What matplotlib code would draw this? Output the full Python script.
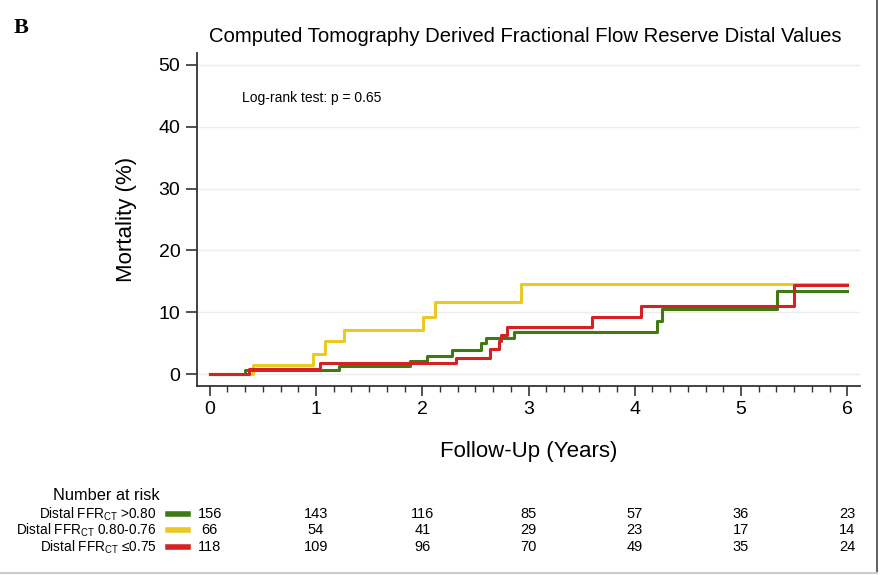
import matplotlib
matplotlib.use("Agg")
import matplotlib.pyplot as plt
import matplotlib.transforms as mtransforms
from matplotlib.lines import Line2D
from matplotlib.ticker import MultipleLocator

plt.rcParams['font.family'] = ['Liberation Sans', 'DejaVu Sans']
plt.rcParams['mathtext.fontset'] = 'custom'
plt.rcParams['mathtext.rm'] = 'Liberation Sans'

# Kaplan-Meier style cumulative mortality (%)
t_green = [0, 0.33, 1.22, 1.88, 2.04, 2.28, 2.55, 2.60, 2.86, 4.21, 4.26, 5.34, 6.0]
y_green = [0, 0.7, 1.3, 2.16, 3.0, 3.9, 5.0, 5.9, 6.9, 8.6, 10.5, 13.5, 13.5]

t_yellow = [0, 0.41, 0.97, 1.08, 1.26, 2.01, 2.12, 2.93, 6.0]
y_yellow = [0, 1.57, 3.35, 5.3, 7.08, 9.3, 11.7, 14.5, 14.5]

t_red = [0, 0.37, 1.04, 2.32, 2.64, 2.72, 2.74, 2.80, 3.60, 4.06, 5.50, 6.0]
y_red = [0, 0.86, 1.84, 2.7, 4.0, 5.4, 6.3, 7.7, 9.2, 11.1, 14.45, 14.45]

group_labels = [r"Distal FFR$_{\mathrm{CT}}$ >0.80",
                r"Distal FFR$_{\mathrm{CT}}$ 0.80-0.76",
                r"Distal FFR$_{\mathrm{CT}}$ ≤0.75"]
risk_times = [0, 1, 2, 3, 4, 5, 6]
risk_green = [156, 143, 116, 85, 57, 36, 23]
risk_yellow = [66, 54, 41, 29, 23, 17, 14]
risk_red = [118, 109, 96, 70, 49, 35, 24]

c_green = "#3d7a12"
c_yellow = "#ebc823"
c_red = "#d42222"

fig = plt.figure(figsize=(8.8, 5.75), dpi=100)
ax = fig.add_axes([0.2239, 0.3287, 0.7534, 0.5791])

ax.step(t_yellow, y_yellow, where="post", color=c_yellow, lw=2.2)
ax.step(t_green, y_green, where="post", color=c_green, lw=2.2)
ax.step(t_red, y_red, where="post", color=c_red, lw=2.2)

ax.set_xlim(-0.12, 6.12)
ax.set_ylim(-1.9, 51.9)
ax.set_yticks(range(0, 51, 10))
ax.set_xticks(range(0, 7))
ax.xaxis.set_minor_locator(MultipleLocator(1 / 6))
for y in range(0, 51, 10):
    ax.axhline(y, color="#ececec", lw=1, zorder=0)

for s in ["top", "right"]:
    ax.spines[s].set_visible(False)
for s in ["left", "bottom"]:
    ax.spines[s].set_color("#333333")
    ax.spines[s].set_linewidth(1.3)
ax.tick_params(axis="both", which="major", labelsize=14, color="#333333",
               width=1.2, length=7, pad=4)
ax.tick_params(axis="x", which="minor", color="#333333", width=1.0, length=4)
ax.tick_params(axis="y", which="major", length=8)

ax.set_ylabel("Mortality (%)", fontsize=16)
ax.yaxis.set_label_coords(-0.091, 0.5)
ax.set_xlabel("Follow-Up (Years)", fontsize=16)
ax.xaxis.set_label_coords(0.5, -0.198)
ax.xaxis.label.set_va("center")

ax.text(0.30, 44.7, "Log-rank test: p = 0.65", fontsize=10, va="center")

fig.text(0.597, 0.937, "Computed Tomography Derived Fractional Flow Reserve Distal Values",
         ha="center", va="center", fontsize=14.6)
fig.text(0.016, 0.951, "B", family="Liberation Serif", fontweight="bold",
         fontsize=16, va="center")

# number at risk table
trans = mtransforms.blended_transform_factory(ax.transData, fig.transFigure)
fig.text(0.060, 0.1374, "Number at risk", fontsize=11.8, va="center")
row_y = [0.106, 0.0783, 0.0487]
rows = [risk_green, risk_yellow, risk_red]
colors = [c_green, c_yellow, c_red]
for label, counts, col, yy in zip(group_labels, rows, colors, row_y):
    fig.text(0.178, yy, label, fontsize=9.8, ha="right", va="center")
    fig.add_artist(Line2D([0.191, 0.214], [yy, yy], color=col, lw=4,
                          transform=fig.transFigure))
    for t, n in zip(risk_times, counts):
        fig.text(t, yy, str(n), fontsize=10.5, ha="center", va="center",
                 transform=trans)

# borders of the panel
fig.add_artist(Line2D([0.9965, 0.9965], [0.003, 1], color="#444444", lw=1.2,
                      transform=fig.transFigure))
fig.add_artist(Line2D([0, 0.9965], [0.004, 0.004], color="#cccccc", lw=1.5,
                      transform=fig.transFigure))

fig.savefig("out.png", dpi=100)
